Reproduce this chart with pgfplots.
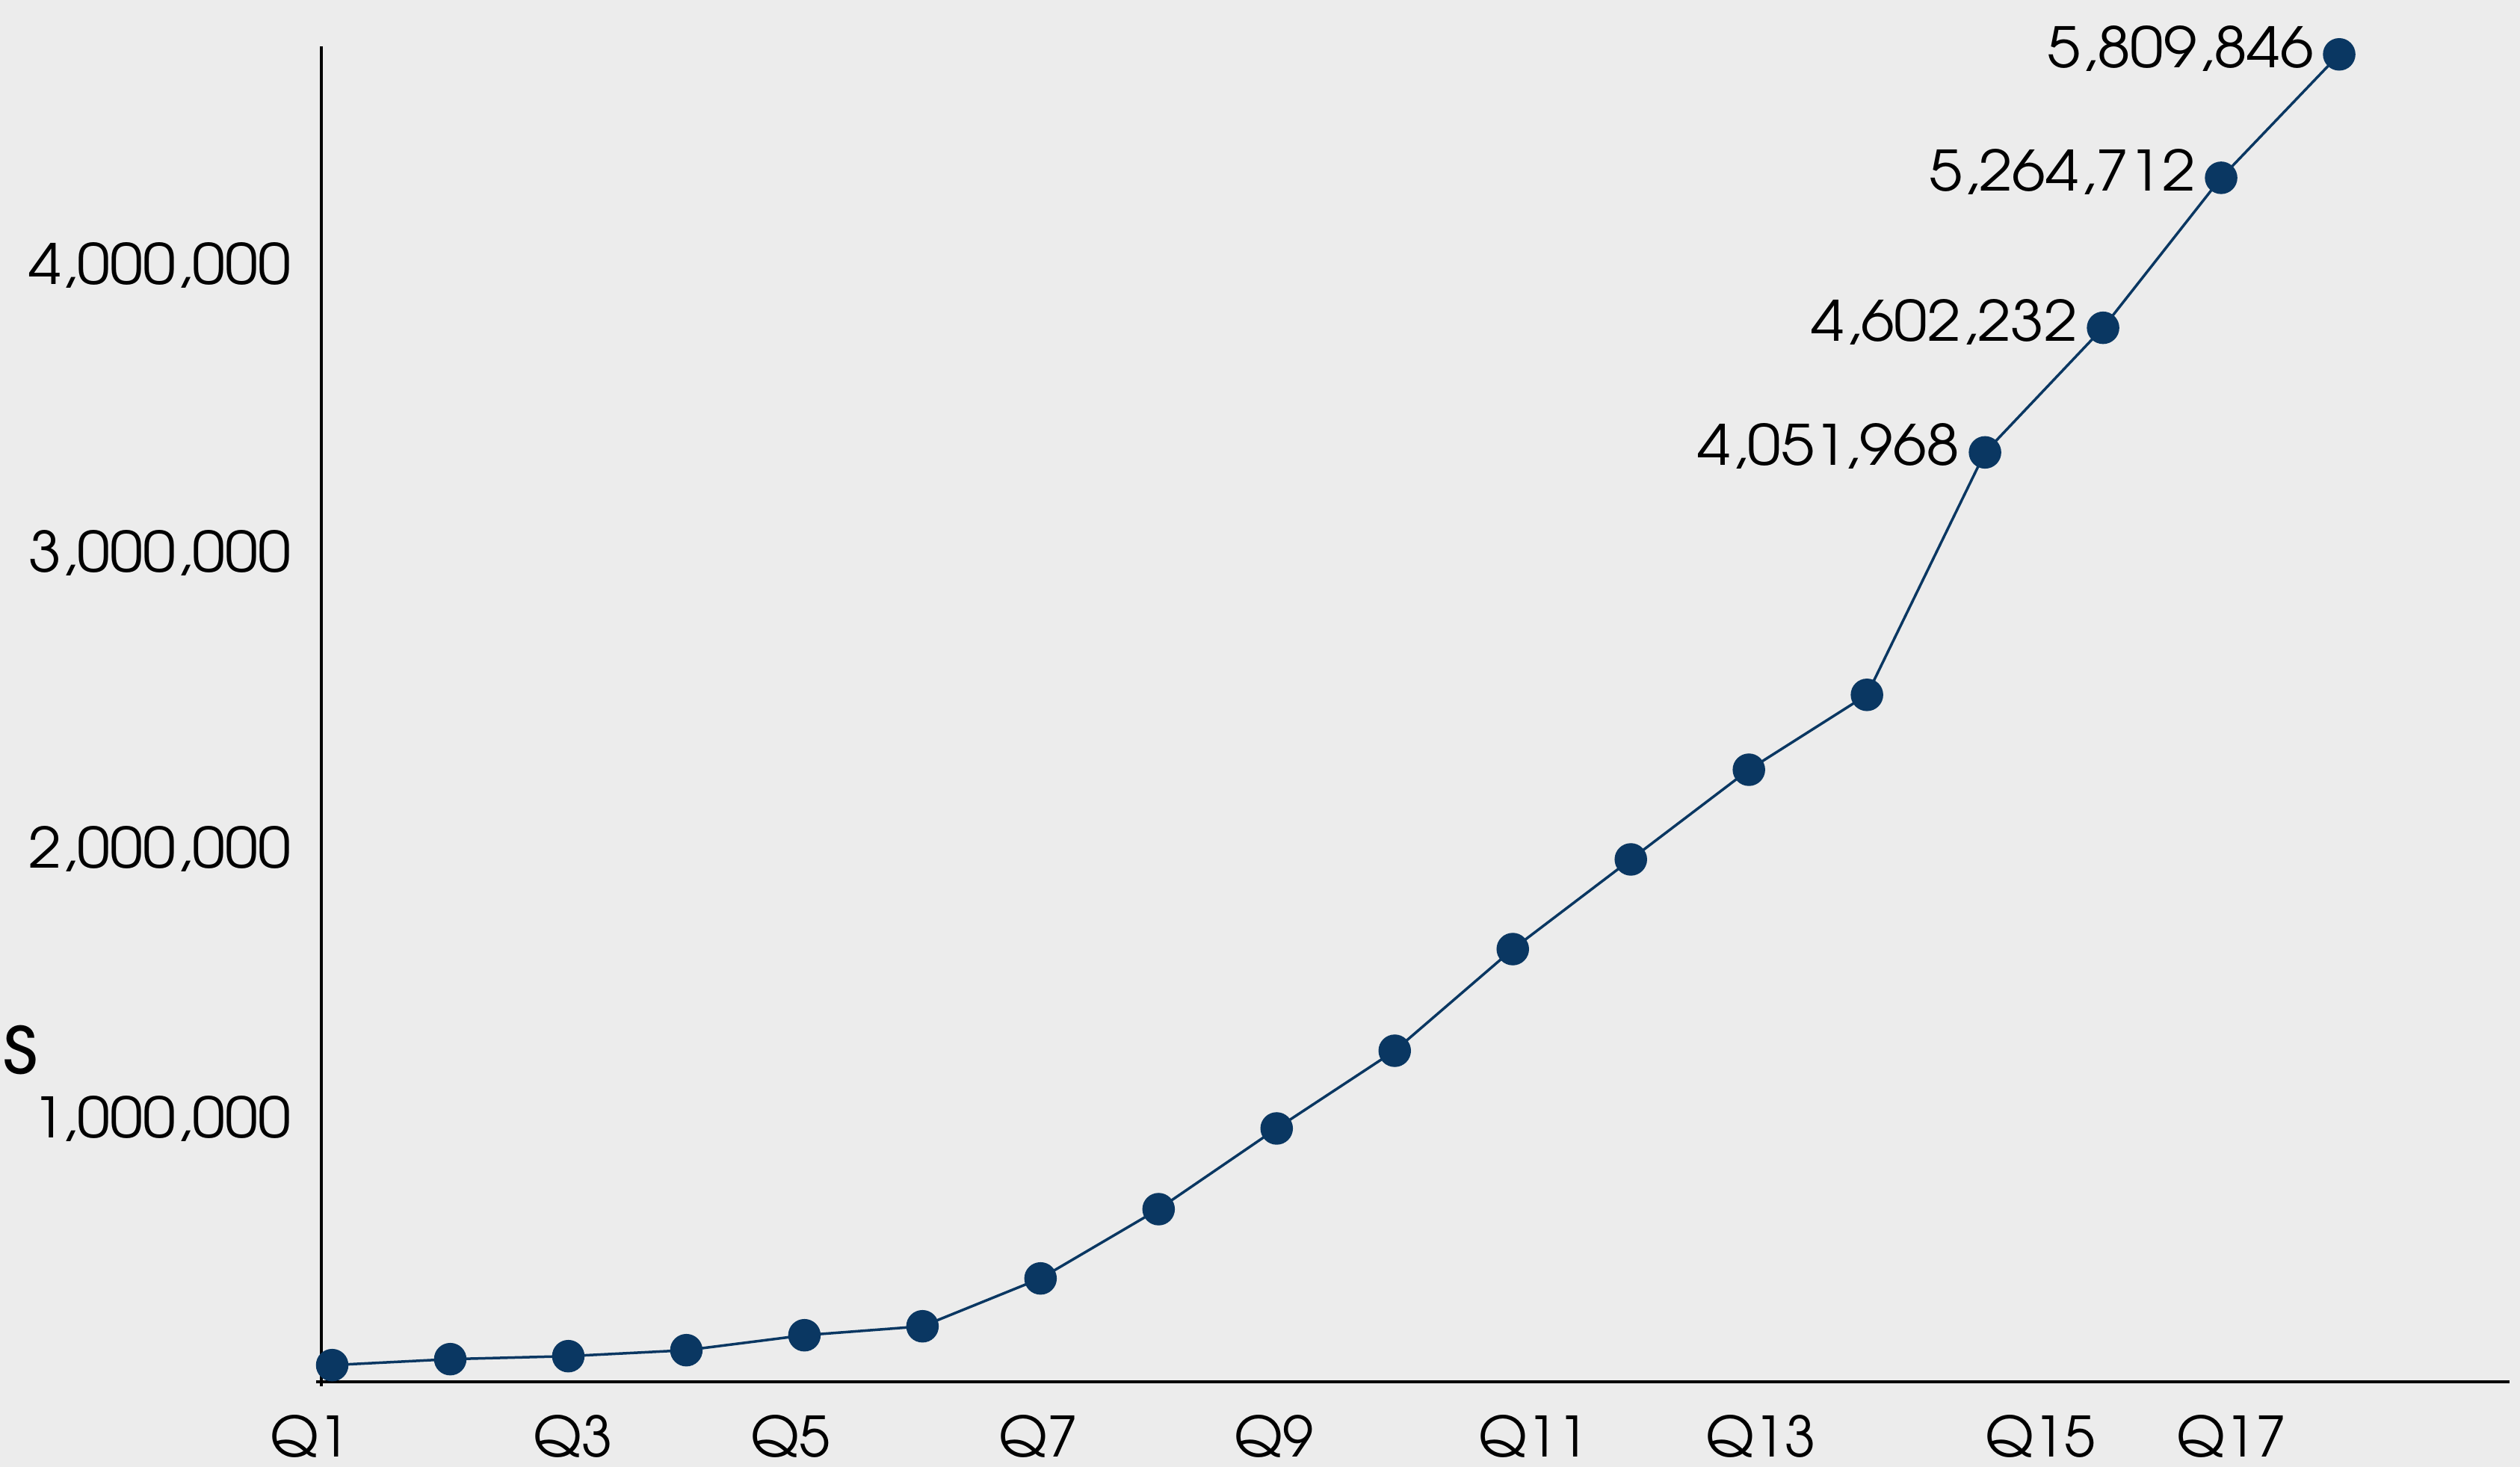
\documentclass[border=0pt]{standalone}
\usepackage{fontspec}
\setmainfont{TeX Gyre Adventor}
\usepackage{graphicx}
\usepackage{pgfplots}
\pgfplotsset{compat=1.18}
\definecolor{bg}{HTML}{ECECEC}
\definecolor{navy}{HTML}{0A3762}
\newcommand{\yl}[1]{\scalebox{1.063}[1]{#1}}
\begin{document}
\begin{tikzpicture}
\fill[bg] (0,0) rectangle (674.4pt,392.6pt);
\node[anchor=base east, font=\fontsize{23}{25}\selectfont, inner sep=0pt] at (10.4pt,105.2pt) {\scalebox{1.05}[1]{s}};
\begin{axis}[
  at={(86pt,22.8pt)}, anchor=south west,
  scale only axis, width=585.6pt, height=357.4pt,
  xmin=0.9082, xmax=19.443, ymin=-52810, ymax=5845363,
  axis lines=left,
  axis line style={-, line width=0.85pt, black},
  x axis line style={shorten <=-1.4pt},
  y axis line style={shorten <=-1.2pt},
  major tick length=0pt,
  xtick={1,3,5,7,9,11,13,15,17},
  xticklabels={\hspace*{-11.8pt}Q1,\hspace*{2.4pt}Q3,\hspace*{-7.6pt}Q5,\hspace*{-1.2pt}Q7,\hspace*{-1.6pt}Q9,\hspace*{11.2pt}Q11,\hspace*{6.4pt}Q13,\hspace*{29.6pt}Q15,\hspace*{5.6pt}Q17},
  ytick={1115600,2307100,3614200,4884900},
  yticklabels={{\yl{1,000,000}},{\yl{2,000,000}},{\yl{3,000,000}},{\yl{4,000,000}}},
  scaled y ticks=false,
  tick label style={font=\fontsize{14.9}{16}\selectfont, text=black},
  yticklabel style={anchor=base east, inner sep=0pt, xshift=-8pt, yshift=-5.5pt},
  xticklabel style={anchor=base, inner sep=0pt, yshift=-20.2pt},
  clip=false,
]
\addplot[navy, line width=0.7pt, mark=*, mark size=4pt, mark options={fill=navy, draw=navy}] coordinates {
(1,20800) (2,47200) (3,60400) (4,86800) (5,152800) (6,192400)
(7,403700) (8,709600) (9,1066100) (10,1409300) (11,1858200) (12,2254300)
(13,2650400) (14,2981100) (15,4051968) (16,4602232) (17,5264712) (18,5809846)
};
\addplot[draw=none, mark=none, point meta=explicit symbolic,
  nodes near coords={\scalebox{1.08}[1]{\pgfplotspointmeta}},
  every node near coord/.append style={anchor=base east, inner sep=0pt, xshift=-6.6pt, yshift=-3.5pt, font=\fontsize{14.9}{16}\selectfont, text=black}]
  table[meta=lab]{
x y lab
15 4051968 4,051,968
16 4602232 4,602,232
17 5264712 5,264,712
18 5809846 5,809,846
};
\end{axis}
\pgfresetboundingbox
\useasboundingbox (0,0) rectangle (674.4pt,392.6pt);
\end{tikzpicture}
\end{document}
